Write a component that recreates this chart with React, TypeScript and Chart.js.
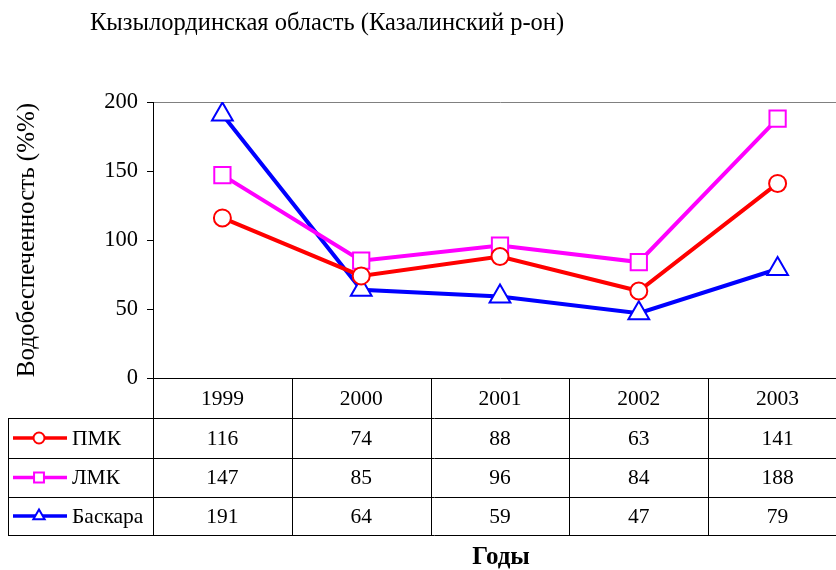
import React, { useEffect, useRef } from "react";
import { Chart, registerables } from "chart.js";

Chart.register(...registerables);

const chartTitle = "Кызылординская область (Казалинский р-он)";
const yAxisTitle = "Водобеспеченность (%%)";
const xAxisTitle = "Годы";
const years = ["1999", "2000", "2001", "2002", "2003"];
const seriesNames = ["ПМК", "ЛМК", "Баскара"];
const pmkValues = [116, 74, 88, 63, 141];
const lmkValues = [147, 85, 96, 84, 188];
const baskaraValues = [191, 64, 59, 47, 79];
const yMin = 0;
const yMax = 200;
const yStep = 50;

const FONT = "'Liberation Serif', 'Times New Roman', serif";
const COLORS = ["#FF0000", "#FF00FF", "#0000FF"];
const STYLES = ["circle", "rect", "triangle"];

function drawMarker(ctx: CanvasRenderingContext2D, style: string, x: number, y: number, r: number, color: string) {
  ctx.save();
  ctx.fillStyle = "#FFFFFF";
  ctx.strokeStyle = color;
  ctx.lineWidth = 2;
  ctx.beginPath();
  if (style === "circle") {
    ctx.arc(x, y, r, 0, Math.PI * 2);
  } else if (style === "rect") {
    const s = r * Math.SQRT1_2;
    ctx.rect(x - s, y - s, 2 * s, 2 * s);
  } else {
    for (let k = 0; k < 3; k++) {
      const a = (k * 2 * Math.PI) / 3;
      const px = x + Math.sin(a) * r;
      const py = y - Math.cos(a) * r;
      if (k === 0) ctx.moveTo(px, py);
      else ctx.lineTo(px, py);
    }
    ctx.closePath();
  }
  ctx.fill();
  ctx.stroke();
  ctx.restore();
}

const tablePlugin = {
  id: "dataTable",
  afterDraw(chart: any) {
    const ctx: CanvasRenderingContext2D = chart.ctx;
    const xs = chart.scales.x;
    const area = chart.chartArea;
    const allValues = [pmkValues, lmkValues, baskaraValues];
    const centers = years.map((_, i) => xs.getPixelForValue(i));
    const half = (centers[1] - centers[0]) / 2;
    const bounds = [centers[0] - half, ...centers.map((c) => c + half)];
    const top = area.bottom;
    const rowLines = [top, top + 40, top + 80, top + 119, top + 157];
    const tableLeft = 8;

    ctx.save();
    ctx.fillStyle = "#000";
    ctx.font = `24.5px ${FONT}`;
    ctx.textAlign = "left";
    ctx.textBaseline = "middle";
    ctx.fillText(chartTitle, 90, 24);

    ctx.strokeStyle = "#000";
    ctx.lineWidth = 1;
    ctx.beginPath();
    for (let r = 1; r < rowLines.length; r++) {
      const yy = Math.round(rowLines[r]) + 0.5;
      ctx.moveTo(tableLeft, yy);
      ctx.lineTo(chart.width, yy);
    }
    bounds.forEach((b) => {
      const xx = Math.round(b) + 0.5;
      ctx.moveTo(xx, top);
      ctx.lineTo(xx, rowLines[rowLines.length - 1]);
    });
    ctx.moveTo(tableLeft + 0.5, rowLines[1]);
    ctx.lineTo(tableLeft + 0.5, rowLines[rowLines.length - 1]);
    ctx.stroke();

    ctx.font = `21.5px ${FONT}`;
    ctx.textAlign = "center";
    years.forEach((yr, i) => {
      ctx.fillText(yr, centers[i], (rowLines[0] + rowLines[1]) / 2 + 1);
    });

    allValues.forEach((vals, r) => {
      const yMid = (rowLines[r + 1] + rowLines[r + 2]) / 2 + 1;
      vals.forEach((v, i) => {
        ctx.textAlign = "center";
        ctx.fillText(String(v), centers[i], yMid);
      });
      ctx.save();
      ctx.strokeStyle = COLORS[r];
      ctx.lineWidth = 3.5;
      ctx.beginPath();
      ctx.moveTo(13, yMid - 1);
      ctx.lineTo(67, yMid - 1);
      ctx.stroke();
      ctx.restore();
      drawMarker(ctx, STYLES[r], 39, yMid - 1, r === 1 ? 7 : r === 2 ? 6.5 : 5.5, COLORS[r]);
      ctx.textAlign = "left";
      ctx.fillText(seriesNames[r], 72, yMid);
    });

    ctx.font = `bold 25px ${FONT}`;
    ctx.textAlign = "center";
    ctx.fillText(xAxisTitle, 501, 558);
    ctx.restore();
  },
};

export default function App() {
  const canvasRef = useRef<HTMLCanvasElement | null>(null);

  useEffect(() => {
    if (!canvasRef.current) return;
    const allValues = [pmkValues, lmkValues, baskaraValues];
    const radii = [8.5, 11.5, 12];
    const chart = new Chart(canvasRef.current, {
      type: "line",
      data: {
        labels: years,
        datasets: seriesNames.map((name, i) => ({
          label: name,
          data: allValues[i],
          borderColor: COLORS[i],
          borderWidth: 4,
          backgroundColor: "#FFFFFF",
          pointStyle: STYLES[i] as any,
          pointRadius: radii[i],
          pointHoverRadius: radii[i],
          pointBackgroundColor: "#FFFFFF",
          pointBorderColor: COLORS[i],
          pointBorderWidth: 2,
          tension: 0,
          fill: false,
        })),
      },
      options: {
        responsive: false,
        animation: false,
        layout: { padding: { top: 102, bottom: 192, left: 0, right: 4 } },
        plugins: {
          legend: { display: false },
          tooltip: { enabled: false },
          title: { display: false },
        },
        scales: {
          x: {
            type: "category",
            offset: true,
            display: false,
          },
          y: {
            min: yMin,
            max: yMax,
            ticks: {
              stepSize: yStep,
              color: "#000",
              font: { family: FONT, size: 22.5 },
              padding: 9,
            },
            grid: {
              drawOnChartArea: true,
              color: (c: any) =>
                c.tick && c.tick.value === yMax ? "#808080" : c.tick && c.tick.value === yMin ? "#000000" : "rgba(0,0,0,0)",
              tickColor: "#000",
              tickLength: 6,
              lineWidth: 1,
            },
            border: { display: true, color: "#000", width: 1 },
            title: {
              display: true,
              text: yAxisTitle,
              color: "#000",
              font: { family: FONT, size: 25 },
              padding: { top: 12, bottom: 0 },
            },
            afterFit: (s: any) => {
              s.width = 153;
            },
          },
        },
      },
      plugins: [tablePlugin],
    });
    return () => chart.destroy();
  }, []);

  return (
    <div style={{ position: "fixed", left: 0, top: 0, width: 836, height: 570, overflow: "hidden", background: "#fff" }}>
      <canvas ref={canvasRef} width={861} height={570} style={{ display: "block" }} />
    </div>
  );
}
